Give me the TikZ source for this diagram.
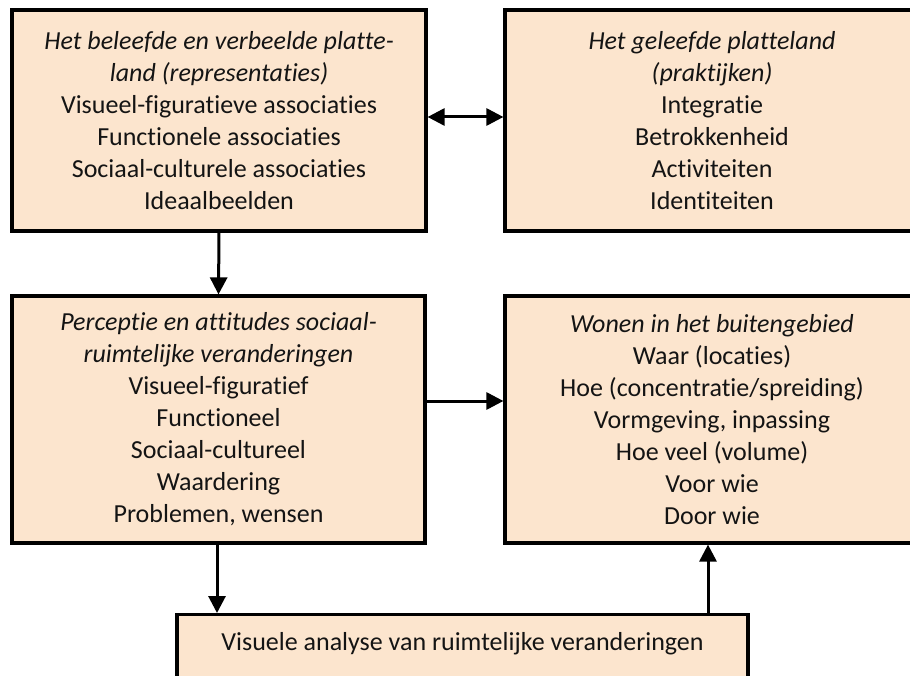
\documentclass[tikz,border=0pt]{standalone}
\usepackage{fontspec}
\setmainfont{Carlito}[Ligatures={NoCommon}]
\usetikzlibrary{arrows.meta}
\definecolor{boxfill}{RGB}{252,229,206}
\definecolor{inkc}{RGB}{20,20,20}
\begin{document}
\begin{tikzpicture}[x=1pt,y=-1pt,
  >={Triangle[length=17pt,width=17pt]},
  box/.style={draw=black, line width=3.2pt, fill=boxfill, align=center, text=inkc,
    font=\fontsize{26}{32}\selectfont, inner sep=0pt},
  conn/.style={line width=3pt},
]
\useasboundingbox (0,0) rectangle (910,676);
\clip (0,0) rectangle (910,676);
\node[box, minimum width=414pt, minimum height=221pt] (A) at (219,120.5)
  {\textit{Het beleefde en verbeelde platte-}\\ \textit{land (representaties)}\\ Visueel-figuratieve associaties\\ Functionele associaties\\ Sociaal-culturele associaties\\ Ideaalbeelden};
\node[box, minimum width=414pt, minimum height=221pt] (B) at (712,120.5)
  {\textit{Het geleefde platteland}\\ \textit{(praktijken)}\\ Integratie\\ Betrokkenheid\\ Activiteiten\\ Identiteiten};
\node[box, minimum width=413pt, minimum height=247pt] (C) at (218.5,419.5)
  {\textit{Perceptie en attitudes sociaal-}\\ \textit{ruimtelijke veranderingen}\\ Visueel-figuratief\\ Functioneel\\ Sociaal-cultureel\\ Waardering\\ Problemen, wensen};
\node[box, minimum width=414pt, minimum height=247pt] (D) at (712,419.5)
  {\textit{Wonen in het buitengebied}\\ Waar (locaties)\\ Hoe (concentratie/spreiding)\\ Vormgeving, inpassing\\ Hoe veel (volume)\\ Voor wie\\ Door wie};
\node[box, minimum width=571pt, text height=36pt, text depth=34pt, anchor=north] (E) at (462.5,613)
  {Visuele analyse van ruimtelijke veranderingen};
\draw[conn,<->] ([yshift=3.5pt]A.east) -- ([yshift=3.5pt]B.west);
\draw[conn,->] (A.south) -- (C.north);
\draw[conn,->] ([yshift=18.5pt]C.east) -- ([yshift=18.5pt]D.west);
\draw[conn,->] ([xshift=-1.5pt]C.south) -- ([xshift=-1.5pt]C.south |- E.north);
\draw[conn,->] ([xshift=-4pt]D.south |- E.north) -- ([xshift=-4pt]D.south);
\end{tikzpicture}
\end{document}
